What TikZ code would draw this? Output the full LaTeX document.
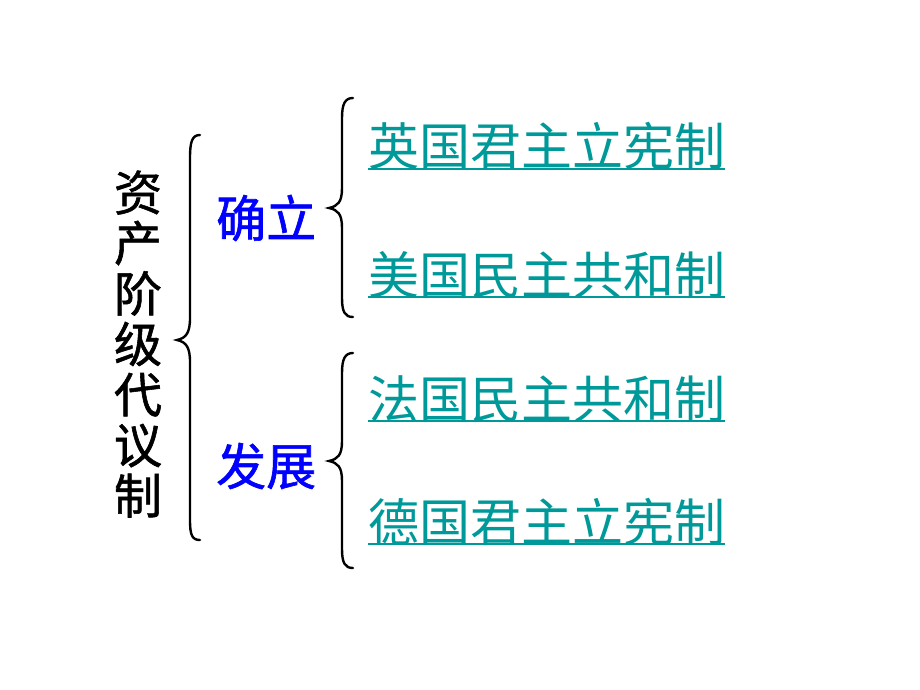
\documentclass[tikz,border=0pt]{standalone}
\usepackage{fontspec}
\newfontfamily\cjk{Noto Sans CJK SC}
\newfontfamily\cjkm[FakeBold=1.2]{Noto Sans CJK SC}
\definecolor{tealtxt}{RGB}{0,153,153}
\definecolor{bluetxt}{RGB}{0,0,255}
\begin{document}
\begin{tikzpicture}[x=1pt,y=-1pt,
  brace/.style={line width=2.4pt,black,line cap=round},
  item/.style={font=\cjk\fontsize{51}{51}\selectfont,text=tealtxt,inner sep=0pt,anchor=west},
  cat/.style={font=\cjkm\fontsize{50}{50}\selectfont,text=bluetxt,inner sep=0pt,anchor=west},
  uline/.style={line width=1.8pt,tealtxt}]
\useasboundingbox (0,0) rectangle (920,690);
\node[font=\cjkm\fontsize{48}{50.5}\selectfont,align=center,inner sep=0pt] (title) at (138,344) {资\\产\\阶\\级\\代\\议\\制};
% big brace
\draw[brace] (200,135) .. controls (192,135) and (190,142) .. (190,158) -- (190,318)
  .. controls (190,333) and (186,338) .. (177,340)
  .. controls (186,342) and (190,347) .. (190,362) -- (190,520)
  .. controls (190,535) and (192,540) .. (200,540);
\node[cat] (c1) at (216,218) {确立};
\node[cat] (c2) at (216,466) {发展};
% brace 2
\draw[brace] (353,98) .. controls (345,98) and (342,104) .. (342,118) -- (342,188)
  .. controls (342,202) and (338,206) .. (329,208)
  .. controls (338,210) and (342,214) .. (342,228) -- (342,298)
  .. controls (342,312) and (345,317) .. (353,317);
% brace 3
\draw[brace] (353,353) .. controls (345,353) and (342,359) .. (342,373) -- (342,441)
  .. controls (342,455) and (338,459) .. (329,461)
  .. controls (338,463) and (342,467) .. (342,481) -- (342,549)
  .. controls (342,563) and (345,568) .. (353,568);
\node[item] (t1) at (368,146) {英国君主立宪制};
\node[item] (t2) at (368,275) {美国民主共和制};
\node[item] (t3) at (368,399) {法国民主共和制};
\node[item] (t4) at (368,522) {德国君主立宪制};
\foreach \n/\y in {t1/169,t2/297,t3/421,t4/544}{
  \draw[uline] (\n.west |- 0,\y) -- (\n.east |- 0,\y);
}
\end{tikzpicture}
\end{document}
